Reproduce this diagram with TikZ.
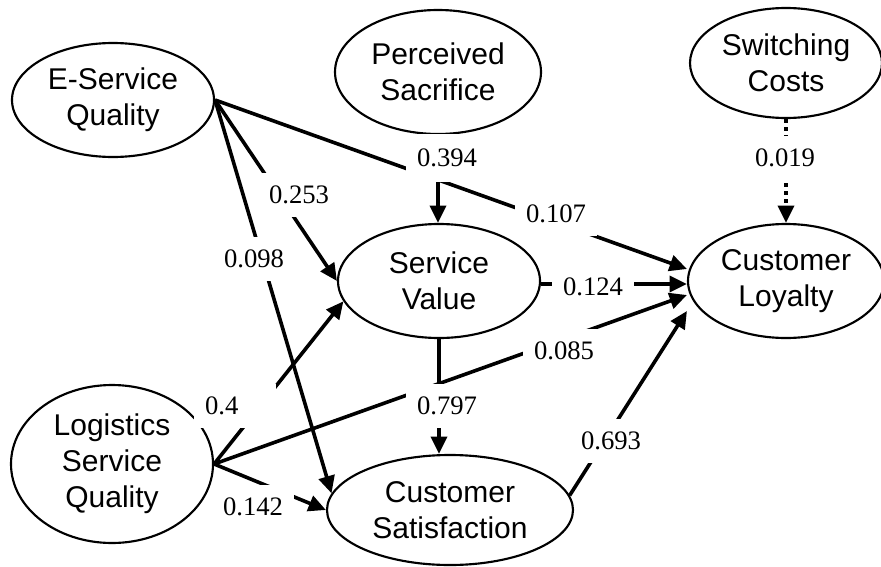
\documentclass[tikz,border=0pt]{standalone}
\usepackage{fontspec}
\setmainfont{Liberation Serif}
\newfontfamily\constructfont{Liberation Sans}
\usetikzlibrary{arrows.meta,shapes.geometric,calc}

\begin{document}
\begin{tikzpicture}[x=0.75pt,y=-0.75pt,
  construct/.style={ellipse, draw, line width=1.6pt, inner sep=0pt, align=center,
    font=\constructfont\fontsize{22.5pt}{27pt}\selectfont},
  link/.style={line width=2.7pt, -{Triangle[length=13pt,width=12pt]}},
  weaklink/.style={link, dash pattern=on 3pt off 3pt},
  coef/.style={fill=white, inner xsep=8pt, inner ysep=10pt,
    font=\fontsize{20pt}{24pt}\selectfont}
]
\useasboundingbox (0,0) rectangle (881,567);
\fill[white] (0,0) rectangle (881,567);

% constructs
\node[construct, minimum width=151.5pt, minimum height=85.5pt] (ESQ) at (113,100) {E-Service\\Quality};
\node[construct, minimum width=154.5pt, minimum height=93pt]   (PS)  at (438,72)  {Perceived\\Sacrifice};
\node[construct, minimum width=144pt,   minimum height=82.5pt] (SC)  at (786,63)  {Switching\\Costs};
\node[construct, minimum width=151.5pt, minimum height=85.5pt] (SV)  at (439,281) {Service\\Value};
\node[construct, minimum width=147pt,   minimum height=85.5pt] (CL)  at (786,281) {Customer\\Loyalty};
\node[construct, minimum width=151.5pt, minimum height=118.5pt] (LSQ) at (112,464) {Logistics\\Service\\Quality};
\node[construct, minimum width=184.5pt, minimum height=82.5pt] (CS)  at (450,510) {Customer\\Satisfaction};

% paths
\draw[link] (ESQ.east) -- ($(CL.west)+(0,-12)$);
\draw[link] (ESQ.east) -- (SV.west);
\draw[link] (ESQ.east) -- (CS.172);
\draw[link] (PS.south) -- (PS.south |- SV.north);
\draw[weaklink] (SC.south) -- (CL.north);
\draw[link] ($(SV.east)+(0,3)$) -- ($(CL.west)+(0,3)$);
\draw[link] (SV.south) -- (SV.south |- CS.north);
\draw[link] (LSQ.east) -- (SV.192);
\draw[link] (LSQ.east) -- (CS.west);
\draw[link] (LSQ.east) -- ($(CL.west)+(0,14)$);
\draw[link] (CS.7) -- ($(CL.west)+(0,30)$);

% path coefficients
\node[coef, inner ysep=11.5pt] (c394) at (447,158) {0.394};
\node[coef] (c253) at (299,195) {0.253};
\node[coef] (c098) at (254,259) {0.098};
\node[coef] (c107) at (556,214) {0.107};
\node[coef] (c124) at (593,287) {0.124};
\node[coef] (c085) at (564,351) {0.085};
\node[coef] (c797) at (447,406) {0.797};
\node[coef] (c693) at (611,441) {0.693};
\node[coef] (c4)   at (235,406) {0.4\phantom{00}};
\node[coef] (c142) at (253,507) {0.142};
\node[coef] (c019) at (785,158) {0.019};
\end{tikzpicture}
\end{document}
